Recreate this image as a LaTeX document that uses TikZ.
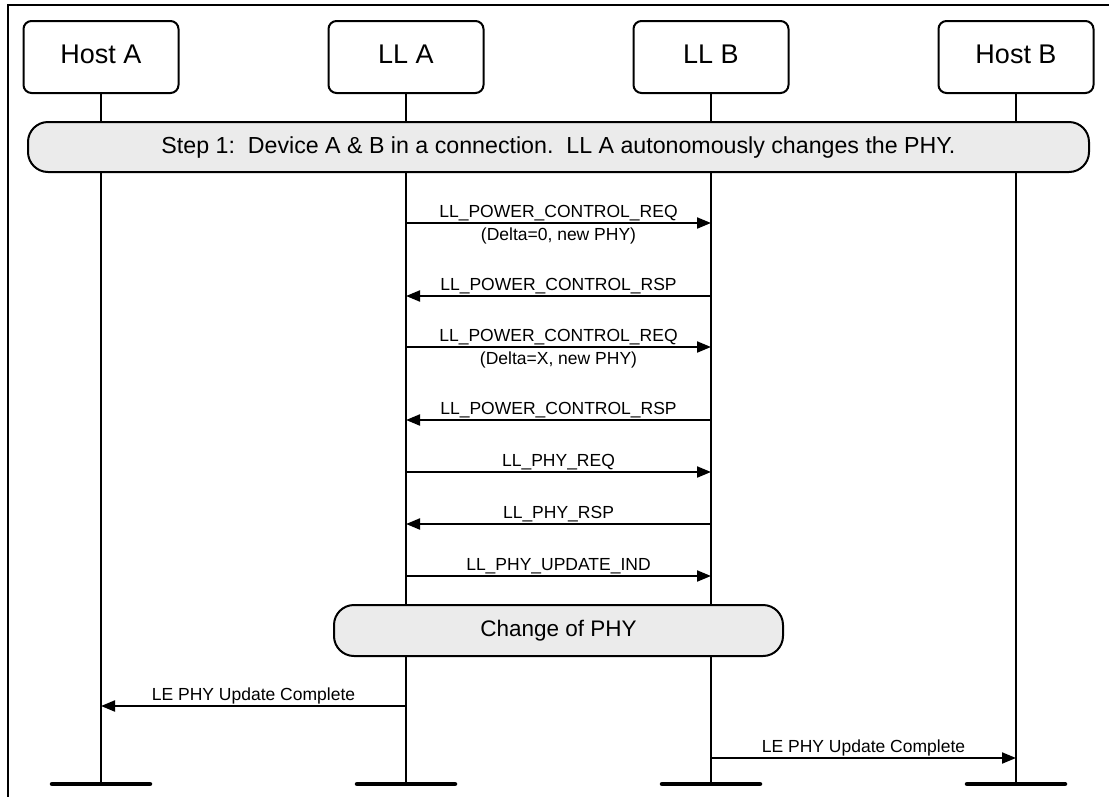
\documentclass[tikz,border=0pt]{standalone}
\usepackage{fontspec}
\setmainfont{Liberation Sans}
\usetikzlibrary{arrows.meta}
\definecolor{bandgray}{HTML}{EBEBEB}
\begin{document}
\begin{tikzpicture}[x=1pt,y=-1pt,
  ent/.style={draw, line width=2pt, rounded corners=8pt, minimum width=155pt, minimum height=72pt,
    inner sep=0pt, font=\fontsize{27}{30}\selectfont, text height=19.3pt, text depth=6.7pt},
  band/.style={draw, line width=2pt, fill=bandgray, rounded corners=20pt, inner sep=0pt,
    font=\fontsize{22.5}{26}\selectfont},
  life/.style={line width=2pt},
  msg/.style={line width=2pt, -{Triangle[length=14pt,width=11pt]}},
  lbl/.style={font=\fontsize{17.5}{20}\selectfont, inner sep=0pt, anchor=base},
  endbar/.style={line width=4.5pt, line cap=round},
  frame/.style={line width=2pt}
]
\useasboundingbox (0,0) rectangle (1109,796);

% frame
\coordinate (fbl) at (7.5,797);
\coordinate (ftl) at (7.5,5);
\coordinate (ftr) at (1110,5);
\draw[frame] (fbl) -- (ftl) -- (ftr);

% entities
\node[ent] (hA)  at (101,57)  {Host A};
\node[ent] (llA) at (406,57)  {LL A};
\node[ent] (llB) at (711,57)  {LL B};
\node[ent] (hB)  at (1016,57) {Host B};

% lifeline ends
\coordinate (eA)  at (101,784);
\coordinate (eLA) at (406,784);
\coordinate (eLB) at (711,784);
\coordinate (eB)  at (1016,784);

\draw[life] (hA.south) -- (eA);
\draw[life] (llA.south) -- (eLA);
\draw[life] (llB.south) -- (eLB);
\draw[life] (hB.south) -- (eB);

% end bars
\foreach \e/\x in {eA/101, eLA/406, eLB/711, eB/1016} {
  \coordinate (\e l) at (\x-49,784);
  \coordinate (\e r) at (\x+49,784);
  \draw[endbar] (\e l) -- (\e r);
}

% banners
\node[band, minimum width=1061pt, minimum height=50pt, font=\fontsize{23.2}{26}\selectfont] (step1) at (558.5,147)
  {Step 1:\ \ Device A \& B in a connection.\ \ LL A autonomously changes the PHY.};
\node[band, minimum width=449pt, minimum height=51pt] (chg) at (558.5,630.5) {Change of PHY};

% messages between LL A and LL B
\foreach \n/\y in {1/223, 2/296, 3/347, 4/420, 5/472, 6/524, 7/576} {
  \coordinate (ma\n) at (406,\y);
  \coordinate (mb\n) at (711,\y);
}
\draw[msg] (ma1) -- (mb1);
\draw[msg] (mb2) -- (ma2);
\draw[msg] (ma3) -- (mb3);
\draw[msg] (mb4) -- (ma4);
\draw[msg] (ma5) -- (mb5);
\draw[msg] (mb6) -- (ma6);
\draw[msg] (ma7) -- (mb7);

\node[lbl] (l1)  at (558.5,217.5) {LL\_POWER\_CONTROL\_REQ};
\node[lbl] (l1s) at (558.5,240)   {(Delta=0, new PHY)};
\node[lbl] (l2)  at (558.5,290.5) {LL\_POWER\_CONTROL\_RSP};
\node[lbl] (l3)  at (558.5,341.5) {LL\_POWER\_CONTROL\_REQ};
\node[lbl] (l3s) at (558.5,364)   {(Delta=X, new PHY)};
\node[lbl] (l4)  at (558.5,414.5) {LL\_POWER\_CONTROL\_RSP};
\node[lbl] (l5)  at (558.5,466.5) {LL\_PHY\_REQ};
\node[lbl] (l6)  at (558.5,518.5) {LL\_PHY\_RSP};
\node[lbl] (l7)  at (558.5,570.5) {LL\_PHY\_UPDATE\_IND};

% host notifications
\coordinate (nA1) at (406,706);
\coordinate (nA2) at (101,706);
\coordinate (nB1) at (711,758);
\coordinate (nB2) at (1016,758);
\draw[msg] (nA1) -- (nA2);
\draw[msg] (nB1) -- (nB2);
\node[lbl] (l8) at (253.5,700.5) {LE PHY Update Complete};
\node[lbl] (l9) at (863.5,752.5) {LE PHY Update Complete};
\end{tikzpicture}
\end{document}
